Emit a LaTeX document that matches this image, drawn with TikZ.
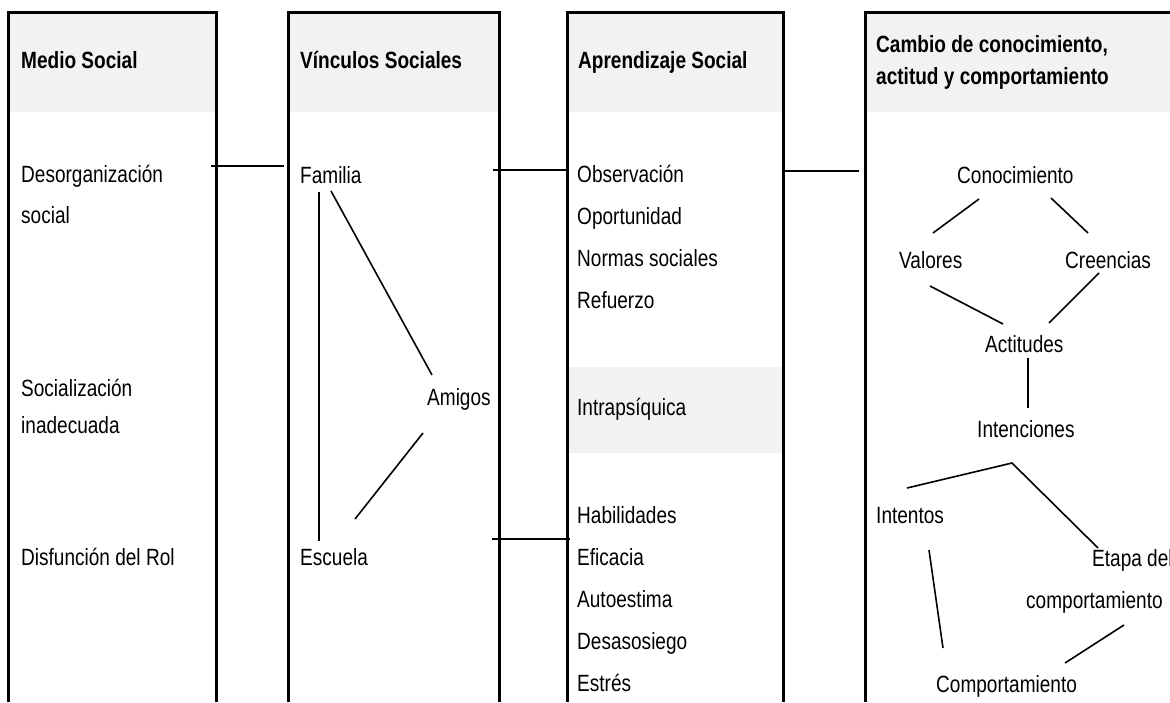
\documentclass[tikz,border=0pt]{standalone}
\usepackage{fontspec}
\setmainfont{Liberation Sans}[FakeStretch=0.81]
\definecolor{hdrgrey}{HTML}{F2F2F2}
\begin{document}
\begin{tikzpicture}[x=1pt,y=-1pt,
  txt/.style={anchor=base west,inner sep=0pt,font=\fontsize{23.5}{28}\selectfont},
  hdr/.style={txt,font=\fontsize{23.5}{28}\selectfont\bfseries},
  colborder/.style={line width=3pt},
  link/.style={line width=1.6pt},
  band/.style={fill=hdrgrey,draw=none}]
\useasboundingbox (0,0) rectangle (1170,702);
% grey header bands
\fill[band] (8,12) rectangle (216,112);
\fill[band] (288,12) rectangle (499,112);
\fill[band] (567,12) rectangle (783,112);
\fill[band] (865,12) rectangle (1170,112);
\fill[band] (567,367) rectangle (783,453);
% column borders
\draw[colborder] (8,702) -- (8,12) -- (216,12) -- (216,702);
\draw[colborder] (288,702) -- (288,12) -- (499,12) -- (499,702);
\draw[colborder] (567,702) -- (567,12) -- (783,12) -- (783,702);
\draw[colborder] (865,702) -- (865,12) -- (1172,12);
% headers
\node[hdr] (h1) at (21,68) {Medio Social};
\node[hdr] (h2) at (300,68) {Vínculos Sociales};
\node[hdr] (h3) at (578,68) {Aprendizaje Social};
\node[hdr] (h4a) at (876,52) {Cambio de conocimiento,};
\node[hdr] (h4b) at (876,84) {actitud y comportamiento};
% column 1
\node[txt] (desorg) at (21,182) {Desorganización};
\node[txt] (social) at (21,223) {social};
\node[txt] (socz) at (21,396) {Socialización};
\node[txt] (inad) at (21,433) {inadecuada};
\node[txt] (disf) at (21,565) {Disfunción del Rol};
% column 2
\node[txt] (familia) at (300,183) {Familia};
\node[txt] (amigos) at (427,405) {Amigos};
\node[txt] (escuela) at (300,565) {Escuela};
% column 3
\node[txt] (obs) at (577,182) {Observación};
\node[txt] (opo) at (577,224) {Oportunidad};
\node[txt] (nor) at (577,266) {Normas sociales};
\node[txt] (ref) at (577,308) {Refuerzo};
\node[txt] (intra) at (577,415) {Intrapsíquica};
\node[txt] (hab) at (577,523) {Habilidades};
\node[txt] (efi) at (577,565) {Eficacia};
\node[txt] (aut) at (577,607) {Autoestima};
\node[txt] (des) at (577,649) {Desasosiego};
\node[txt] (est) at (577,691) {Estrés};
% column 4
\node[txt] (cono) at (957,183) {Conocimiento};
\node[txt] (val) at (899,268) {Valores};
\node[txt] (cre) at (1065,268) {Creencias};
\node[txt] (act) at (985,352) {Actitudes};
\node[txt] (inte) at (977,437) {Intenciones};
\node[txt] (intn) at (876,523) {Intentos};
\node[txt] (etapa) at (1092,566) {Etapa del};
\node[txt] (etapb) at (1026,608) {comportamiento};
\node[txt] (comp) at (936,692) {Comportamiento};
% connector end points
\coordinate (c12a) at (211,166);  \coordinate (c12b) at (284,166);
\coordinate (c23a) at (493,170);  \coordinate (c23b) at (568,170);
\coordinate (c23c) at (492,539);  \coordinate (c23d) at (570,539);
\coordinate (c34a) at (783,171);  \coordinate (c34b) at (859,171);
\coordinate (fe1) at (319,192);   \coordinate (fe2) at (319,541);
\coordinate (fa1) at (331,191);   \coordinate (fa2) at (432,375);
\coordinate (ae1) at (423,433);   \coordinate (ae2) at (355,519);
\coordinate (cv1) at (979,199);   \coordinate (cv2) at (933,233);
\coordinate (cc1) at (1051,198);  \coordinate (cc2) at (1088,233);
\coordinate (va1) at (930,286);   \coordinate (va2) at (1003,324);
\coordinate (ca1) at (1099,273);  \coordinate (ca2) at (1049,323);
\coordinate (ai1) at (1028,358);  \coordinate (ai2) at (1028,408);
\coordinate (ii1) at (907,488);   \coordinate (ii2) at (1012,463);  \coordinate (ii3) at (1098,548);
\coordinate (tc1) at (929,550);   \coordinate (tc2) at (943,648);
\coordinate (ec1) at (1124,625);  \coordinate (ec2) at (1065,663);
% connectors
\draw[link] (c12a) -- (c12b);
\draw[link] (c23a) -- (c23b);
\draw[link] (c23c) -- (c23d);
\draw[link] (c34a) -- (c34b);
\draw[link] (fe1) -- (fe2);
\draw[link] (fa1) -- (fa2);
\draw[link] (ae1) -- (ae2);
\draw[link] (cv1) -- (cv2);
\draw[link] (cc1) -- (cc2);
\draw[link] (va1) -- (va2);
\draw[link] (ca1) -- (ca2);
\draw[link] (ai1) -- (ai2);
\draw[link] (ii1) -- (ii2) -- (ii3);
\draw[link] (tc1) -- (tc2);
\draw[link] (ec1) -- (ec2);
\end{tikzpicture}
\end{document}
